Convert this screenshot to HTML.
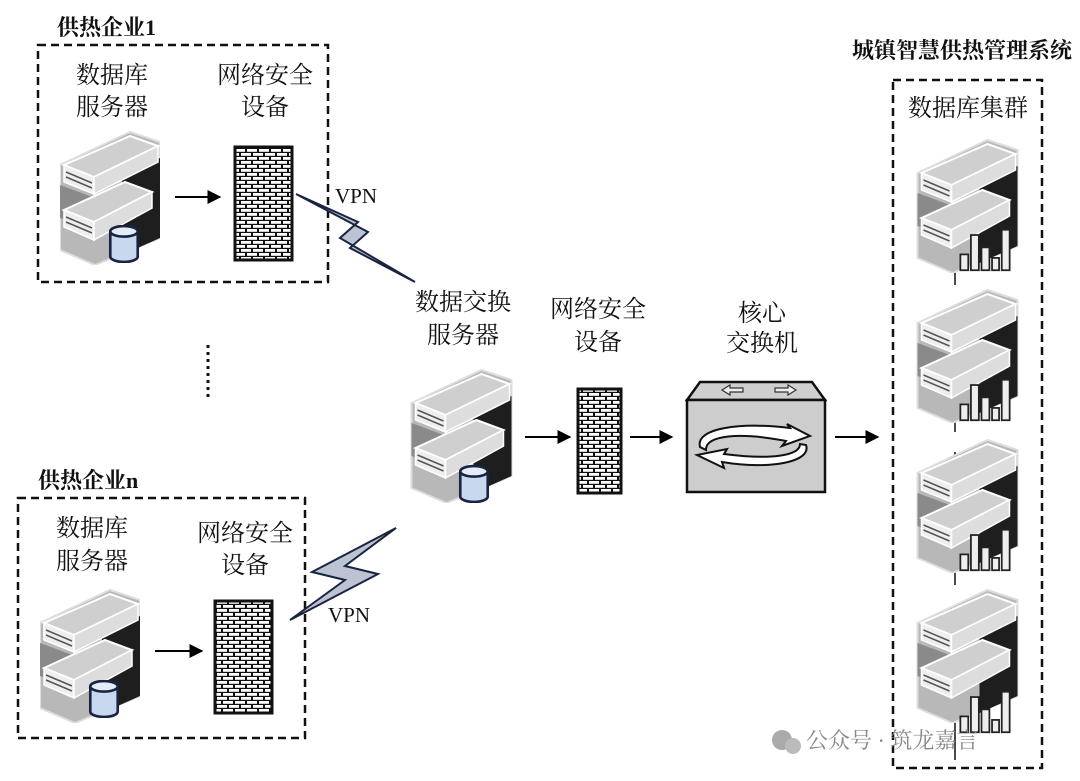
<!DOCTYPE html>
<html><head><meta charset="utf-8"><style>
html,body{margin:0;padding:0;background:#fff;}
svg{display:block;}
text{font-family:"Liberation Serif","Noto Serif CJK SC","Noto Sans CJK SC",serif;fill:#111;}
</style></head><body>
<svg width="1080" height="781" viewBox="0 0 1080 781" xmlns="http://www.w3.org/2000/svg">
<defs>
<marker id="ah" viewBox="0 0 10 10" refX="9" refY="5" markerWidth="7" markerHeight="7" orient="auto"><path d="M0,0L10,5L0,10z" fill="#000"/></marker>
<pattern id="brick" width="12" height="8" patternUnits="userSpaceOnUse">
<rect width="12" height="8" fill="#111"/>
<rect x="1" y="1" width="10" height="2.8" fill="#fff"/>
<rect x="-5" y="5" width="10" height="2.8" fill="#fff"/><rect x="7" y="5" width="10" height="2.8" fill="#fff"/>
</pattern>
<symbol id="srv" viewBox="0 0 100 135">
<path d="M0,35L70,2L100,12L100,108L35,135L0,120Z" fill="#b8b8b8" stroke="#ddd" stroke-width="2"/>
<path d="M62,45L100,28L100,108L62,125Z" fill="#1e1e1e"/>
<path d="M0,55L35,68L35,100L0,88Z" fill="#8a8a8a"/>
<path d="M4,35L70,6L98,16L34,47Z" fill="#cfcfcf" stroke="#fff" stroke-width="2"/>
<path d="M4,35L34,47L34,64L4,52Z" fill="#eee" stroke="#fff" stroke-width="1.5"/>
<path d="M34,47L98,16L98,32L34,64Z" fill="#ddd" stroke="#fff" stroke-width="1.5"/>
<path d="M6,42L32,53M6,47L32,58" stroke="#555" stroke-width="1.5"/>
<path d="M4,80L65,52L92,62L34,92Z" fill="#cfcfcf" stroke="#fff" stroke-width="2"/>
<path d="M4,80L34,92L34,110L4,97Z" fill="#eee" stroke="#fff" stroke-width="1.5"/>
<path d="M34,92L92,62L92,78L34,110Z" fill="#ddd" stroke="#fff" stroke-width="1.5"/>
<path d="M6,87L32,98M6,92L32,103" stroke="#555" stroke-width="1.5"/>
</symbol>
<symbol id="db" viewBox="0 0 30 36">
<path d="M2,6V30A13,5 0 0 0 28,30V6" fill="#c8d8ee" stroke="#1a2340" stroke-width="2.5"/>
<ellipse cx="15" cy="6" rx="13" ry="5" fill="#e4ecf8" stroke="#1a2340" stroke-width="2.5"/>
</symbol>
<symbol id="bars" viewBox="0 0 60 50">
<rect x="2" y="30" width="9" height="18" fill="#eee" stroke="#222" stroke-width="2"/>
<rect x="14" y="8" width="9" height="40" fill="#eee" stroke="#222" stroke-width="2"/>
<rect x="26" y="22" width="9" height="26" fill="#eee" stroke="#222" stroke-width="2"/>
<rect x="38" y="34" width="8" height="14" fill="#eee" stroke="#222" stroke-width="2"/>
<rect x="49" y="2" width="9" height="46" fill="#eee" stroke="#222" stroke-width="2"/>
</symbol>
</defs>

<!-- Box 1 -->
<text x="57" y="35" font-size="22" font-weight="bold">供热企业1</text>
<rect x="38" y="45" width="290" height="237" fill="none" stroke="#111" stroke-width="2.5" stroke-dasharray="8,5"/>
<text x="112" y="83" font-size="24" text-anchor="middle">数据库</text>
<text x="112" y="115" font-size="24" text-anchor="middle">服务器</text>
<text x="265" y="83" font-size="24" text-anchor="middle">网络安全</text>
<text x="265" y="115" font-size="24" text-anchor="middle">设备</text>
<use href="#srv" x="60" y="130" width="100" height="135"/>
<use href="#db" x="108" y="225" width="32" height="38"/>
<line x1="175" y1="197" x2="220" y2="197" stroke="#000" stroke-width="2" marker-end="url(#ah)"/>
<rect x="235" y="147" width="57" height="113" fill="url(#brick)" stroke="#111" stroke-width="3"/>

<!-- lightning 1 -->
<path d="M296,194L358,222L340,238L415,282L350,248L368,232Z" fill="#bcc4d4" stroke="#1a2340" stroke-width="2"/>
<text x="335" y="203" font-size="21">VPN</text>

<!-- dots -->
<line x1="208" y1="345" x2="208" y2="398" stroke="#111" stroke-width="3" stroke-dasharray="3,4"/>

<!-- Box n -->
<text x="38" y="488" font-size="22" font-weight="bold">供热企业n</text>
<rect x="18" y="498" width="287" height="240" fill="none" stroke="#111" stroke-width="2.5" stroke-dasharray="8,5"/>
<text x="92" y="536" font-size="24" text-anchor="middle">数据库</text>
<text x="92" y="569" font-size="24" text-anchor="middle">服务器</text>
<text x="245" y="541" font-size="24" text-anchor="middle">网络安全</text>
<text x="245" y="573" font-size="24" text-anchor="middle">设备</text>
<use href="#srv" x="40" y="588" width="100" height="135"/>
<use href="#db" x="88" y="680" width="32" height="38"/>
<line x1="155" y1="651" x2="202" y2="651" stroke="#000" stroke-width="2" marker-end="url(#ah)"/>
<rect x="215" y="601" width="57" height="112" fill="url(#brick)" stroke="#111" stroke-width="3"/>

<!-- lightning n -->
<path d="M290,620L345,580L312,572L396,528L345,566L378,574Z" fill="#bcc4d4" stroke="#1a2340" stroke-width="2"/>
<text x="328" y="622" font-size="21">VPN</text>

<!-- center -->
<text x="463" y="310" font-size="24" text-anchor="middle">数据交换</text>
<text x="463" y="343" font-size="24" text-anchor="middle">服务器</text>
<use href="#srv" x="408" y="368" width="107" height="135"/>
<use href="#db" x="458" y="465" width="32" height="38"/>
<line x1="525" y1="437" x2="570" y2="437" stroke="#000" stroke-width="2" marker-end="url(#ah)"/>
<text x="598" y="317" font-size="24" text-anchor="middle">网络安全</text>
<text x="598" y="350" font-size="24" text-anchor="middle">设备</text>
<rect x="578" y="389" width="43" height="104" fill="url(#brick)" stroke="#111" stroke-width="3"/>
<line x1="630" y1="437" x2="672" y2="437" stroke="#000" stroke-width="2" marker-end="url(#ah)"/>

<!-- core switch -->
<text x="762" y="321" font-size="24" text-anchor="middle">核心</text>
<text x="762" y="351" font-size="24" text-anchor="middle">交换机</text>
<path d="M687,400L700,382L812,382L825,400Z" fill="#cfcfcf" stroke="#111" stroke-width="2.5"/>
<rect x="687" y="400" width="138" height="92" fill="#cdcdcd" stroke="#111" stroke-width="2.5"/>
<path d="M722,390L730,385V388H743V392H730V395Z" fill="#eee" stroke="#333" stroke-width="1.2"/>
<path d="M796,390L788,385V388H775V392H788V395Z" fill="#eee" stroke="#333" stroke-width="1.2"/>
<path d="M700,447C695,428 740,422 790,428L787,424L810,436L782,446L786,441C740,432 705,435 706,450Z" fill="#fff" stroke="#111" stroke-width="2"/>
<path d="M806,445C812,462 770,470 722,462L724,468L697,455L727,449L724,454C770,460 800,456 800,444Z" fill="#fff" stroke="#111" stroke-width="2"/>
<line x1="835" y1="437" x2="878" y2="437" stroke="#000" stroke-width="2" marker-end="url(#ah)"/>

<!-- right cluster -->
<text x="1072" y="58" font-size="22" font-weight="bold" text-anchor="end">城镇智慧供热管理系统</text>
<rect x="893" y="80" width="149" height="688" fill="none" stroke="#111" stroke-width="2.5" stroke-dasharray="8,5"/>
<text x="968" y="116" font-size="24" text-anchor="middle">数据库集群</text>
<line x1="955" y1="270" x2="955" y2="760" stroke="#111" stroke-width="1.5"/>
<rect x="930" y="285" width="50" height="20" fill="#fff"/>
<rect x="930" y="432" width="50" height="20" fill="#fff"/>
<rect x="930" y="585" width="50" height="20" fill="#fff"/>
<use href="#srv" x="915" y="138" width="105" height="135"/>
<use href="#bars" x="955" y="228" width="60" height="44"/>
<use href="#srv" x="915" y="288" width="105" height="135"/>
<use href="#bars" x="955" y="378" width="60" height="44"/>
<use href="#srv" x="915" y="438" width="105" height="135"/>
<use href="#bars" x="955" y="528" width="60" height="44"/>
<use href="#srv" x="915" y="588" width="105" height="135"/>
<use href="#bars" x="955" y="690" width="60" height="44"/>

<!-- watermark -->
<circle cx="782" cy="740" r="10" fill="#aaa"/><circle cx="793" cy="746" r="8" fill="#bbb"/>
<text x="806" y="748" font-size="22" style="fill:#888" font-family="Liberation Sans,Noto Sans CJK SC,sans-serif">公众号 · 筑龙嘉言</text>
</svg>
</body></html>
